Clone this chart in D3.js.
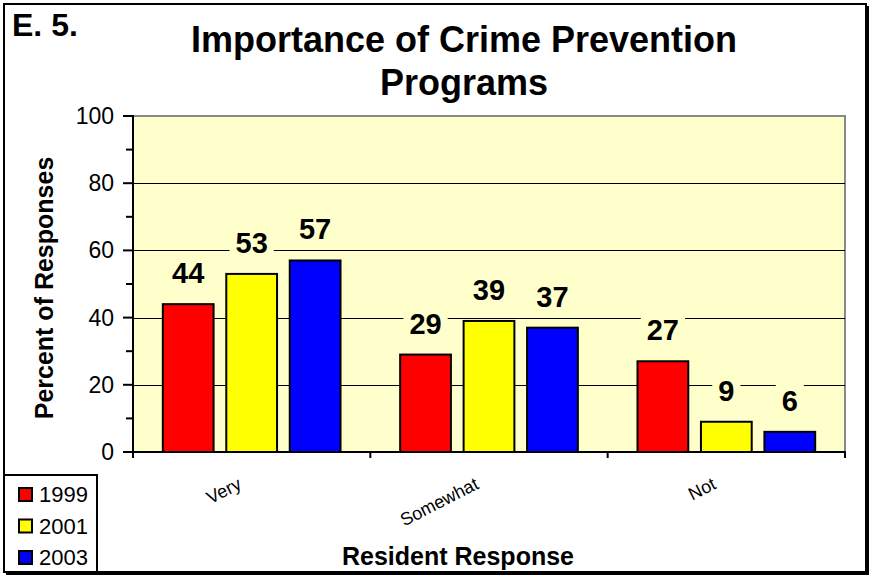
<!DOCTYPE html>
<html><head><meta charset="utf-8">
<script src="https://cdn.jsdelivr.net/npm/d3@7"></script>
<style>body{margin:0;background:#fff}svg{display:block;font-family:"Liberation Sans",Arial,sans-serif}</style>
</head><body><svg id="c" width="871" height="578"></svg>
<script>
const categories = ["Very", "Somewhat", "Not"];
const years = ["1999", "2001", "2003"];
const values1999 = [44, 29, 27];
const values2001 = [53, 39, 9];
const values2003 = [57, 37, 6];
const yTicks = [0, 20, 40, 60, 80, 100];
const colors = ["#FF0000", "#FFFF00", "#0000FF"];
const series = [values1999, values2001, values2003];

const svg = d3.select("#c");
const L = 133, R = 845, T = 116, B = 452;
const x = d3.scaleBand().domain(categories).range([L, R]).paddingInner(0).paddingOuter(0);
const xs = d3.scaleBand().domain(years).range([0, x.bandwidth()]).paddingInner(0.2).paddingOuter(0.47);
const y = d3.scaleLinear().domain([0, 100]).range([B, T]);

// outer frame with shadow
svg.append("rect").attr("x", 6).attr("y", 6).attr("width", 863).attr("height", 569).attr("fill", "#000");
svg.append("rect").attr("x", 4).attr("y", 4).attr("width", 862).attr("height", 568).attr("fill", "#fff").attr("stroke", "#000").attr("stroke-width", 2);

// plot background
svg.append("rect").attr("x", L).attr("y", T).attr("width", R - L).attr("height", B - T)
  .attr("fill", "#FFFFCC").attr("stroke", "#888").attr("stroke-width", 2);

// gridlines
svg.append("g").selectAll("line").data(yTicks.filter(d => d > 0 && d < 100)).join("line")
  .attr("x1", L).attr("x2", R).attr("y1", d => Math.round(y(d)) + 0.5).attr("y2", d => Math.round(y(d)) + 0.5)
  .attr("stroke", "#000").attr("stroke-width", 1);

// bars
const groups = svg.append("g").selectAll("g").data(categories).join("g")
  .attr("transform", d => `translate(${x(d)},0)`);
groups.selectAll("rect").data((d, i) => years.map((yr, j) => ({yr, v: series[j][i], c: colors[j]}))).join("rect")
  .attr("x", d => xs(d.yr)).attr("width", xs.bandwidth())
  .attr("y", d => y(d.v)).attr("height", d => B - y(d.v))
  .attr("fill", d => d.c).attr("stroke", "#000").attr("stroke-width", 2);

// data labels with background
const lab = groups.selectAll("g.lab").data((d, i) => years.map((yr, j) => ({yr, v: series[j][i]}))).join("g").attr("class", "lab");
lab.each(function(d) {
  const g = d3.select(this);
  const cx = xs(d.yr) + xs.bandwidth() / 2;
  const by = y(d.v) - 21;
  const t = g.append("text").attr("x", cx).attr("y", by).attr("text-anchor", "middle")
    .attr("font-size", 29).attr("font-weight", "bold").text(d.v);
  const bb = t.node().getBBox();
  g.insert("rect", "text").attr("x", bb.x - 6).attr("y", bb.y - 5).attr("width", bb.width + 12).attr("height", bb.height + 8)
    .attr("fill", "#FFFFCC");
});

// y axis
const yAxis = svg.append("g").attr("transform", `translate(${L},0)`);
yAxis.append("line").attr("x1", 0).attr("x2", 0).attr("y1", T - 1).attr("y2", B + 6).attr("stroke", "#000").attr("stroke-width", 2);
yAxis.selectAll("line.t").data(d3.range(0, 101, 10)).join("line").attr("class", "t")
  .attr("x1", d => d % 20 === 0 ? -10 : -7).attr("x2", 0).attr("y1", d => y(d)).attr("y2", d => y(d)).attr("stroke", "#000").attr("stroke-width", 2);
yAxis.selectAll("text").data(yTicks).join("text")
  .attr("x", -19).attr("y", d => y(d) + 8).attr("text-anchor", "end").attr("font-size", 23).text(d => d);

// x axis
const xAxis = svg.append("g");
xAxis.append("line").attr("x1", L - 1).attr("x2", R + 1).attr("y1", B).attr("y2", B).attr("stroke", "#000").attr("stroke-width", 2);
xAxis.selectAll("line.t").data(x.domain().map(d => x(d)).concat([R])).join("line").attr("class", "t")
  .attr("x1", d => d).attr("x2", d => d).attr("y1", B).attr("y2", B + 6).attr("stroke", "#000").attr("stroke-width", 2);
xAxis.selectAll("text").data(categories).join("text")
  .attr("transform", d => `translate(${x(d) + x.bandwidth() / 2 - 9},${B + 36}) rotate(-27)`)
  .attr("text-anchor", "end").attr("font-size", 18).text(d => d);

// titles
svg.append("text").attr("x", 12).attr("y", 36).attr("font-size", 32).attr("font-weight", "bold").text("E. 5.");
svg.append("text").attr("x", 464).attr("y", 52).attr("text-anchor", "middle").attr("font-size", 36).attr("font-weight", "bold").text("Importance of Crime Prevention");
svg.append("text").attr("x", 464).attr("y", 95).attr("text-anchor", "middle").attr("font-size", 36).attr("font-weight", "bold").text("Programs");
svg.append("text").attr("transform", `translate(53,${(T + B) / 2 + 4}) rotate(-90)`).attr("text-anchor", "middle")
  .attr("font-size", 25).attr("font-weight", "bold").text("Percent of Responses");
svg.append("text").attr("x", 458).attr("y", 565).attr("text-anchor", "middle").attr("font-size", 25).attr("font-weight", "bold").text("Resident Response");

// legend
const lg = svg.append("g");
lg.append("rect").attr("x", 4).attr("y", 475).attr("width", 93).attr("height", 97).attr("fill", "#fff").attr("stroke", "#000").attr("stroke-width", 2);
const items = lg.selectAll("g").data(years).join("g").attr("transform", (d, i) => `translate(0,${494 + i * 31.5})`);
items.append("rect").attr("x", 19).attr("y", -6).attr("width", 13).attr("height", 13)
  .attr("fill", (d, i) => colors[i]).attr("stroke", "#000").attr("stroke-width", 2);
items.append("text").attr("x", 39).attr("y", 8).attr("font-size", 22).text(d => d);
</script></body></html>
